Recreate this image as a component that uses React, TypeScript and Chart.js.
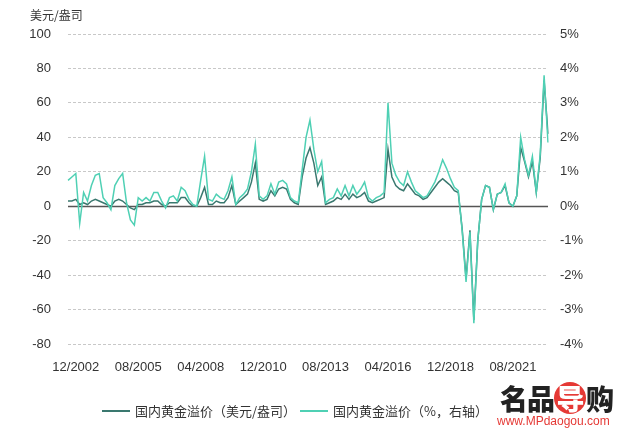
import React, { useEffect, useRef } from 'react';
import { Chart, registerables } from 'chart.js';

Chart.register(...registerables);

// Bimonthly observations starting 08/2002
const START_YEAR = 2002;
const START_MONTH = 8;
const tickLabels = ['12/2002', '08/2005', '04/2008', '12/2010', '08/2013', '04/2016', '12/2018', '08/2021'];

// 国内黄金溢价（美元/盎司）
const premiumUsd = [
  3, 3, 4, 1, 2, 1, 3, 4, 3, 2, 1, 0, 3, 4, 3, 1, -1, -2, 1, 1,
  2, 2, 3, 3, 1, 0, 2, 2, 2, 5, 5, 2, 0, 0, 5, 11, 1, 1, 3, 2,
  2, 5, 12, 1, 3, 5, 7, 14, 25, 4, 3, 4, 9, 6, 10, 11, 10, 4, 2, 1,
  17, 28, 34, 25, 12, 17, 1, 2, 3, 5, 4, 7, 4, 7, 5, 6, 8, 3, 2, 3,
  4, 5, 33, 17, 12, 10, 9, 13, 10, 7, 6, 4, 5, 8, 11, 14, 16, 14, 12, 9,
  8, -13, -42, -14, -66, -20, 4, 12, 11, -2, 7, 8, 12, 2, 0, 6, 34, 26, 17, 26,
  8, 28, 73, 42,
];

// 国内黄金溢价（%，右轴）
const premiumPct = [
  0.75, 0.85, 0.95, -0.5, 0.4, 0.15, 0.6, 0.9, 0.95, 0.25, 0.1, -0.1, 0.6, 0.8, 0.95, 0.1, -0.4, -0.55, 0.25, 0.15,
  0.25, 0.15, 0.4, 0.4, 0.15, -0.05, 0.25, 0.3, 0.15, 0.55, 0.45, 0.2, 0.05, 0, 0.75, 1.45, 0.2, 0.15, 0.35, 0.25,
  0.2, 0.45, 0.85, 0.05, 0.25, 0.35, 0.5, 1.0, 1.8, 0.3, 0.2, 0.3, 0.65, 0.35, 0.7, 0.75, 0.65, 0.25, 0.15, 0.1,
  1.05, 2.0, 2.5, 1.65, 1.0, 1.3, 0.1, 0.2, 0.25, 0.5, 0.3, 0.6, 0.3, 0.6, 0.35, 0.5, 0.7, 0.25, 0.15, 0.25,
  0.3, 0.4, 3.0, 1.25, 0.9, 0.7, 0.6, 1.0, 0.7, 0.45, 0.35, 0.25, 0.3, 0.5, 0.7, 1.0, 1.35, 1.1, 0.8, 0.55,
  0.45, -0.7, -2.2, -0.75, -3.4, -1.0, 0.2, 0.6, 0.55, -0.1, 0.35, 0.4, 0.65, 0.1, 0, 0.3, 2.0, 1.35, 0.9, 1.45,
  0.4, 1.5, 3.8, 1.85,
];

const categories: string[] = premiumUsd.map((_, i) => {
  const m = START_MONTH - 1 + 2 * i;
  const y = START_YEAR + Math.floor(m / 12);
  const mm = (m % 12) + 1;
  return `${mm < 10 ? '0' : ''}${mm}/${y}`;
});

const DARK = '#3a786f';
const TEAL = '#4fd0b4';
const FONT = '"Liberation Sans", "Noto Sans CJK SC", sans-serif';
const CJK = '"Noto Sans CJK SC", "Liberation Sans", sans-serif';

const zeroLine = {
  id: 'zeroLine',
  beforeDatasetsDraw(chart: any) {
    const { ctx, chartArea, scales } = chart;
    const y = Math.round(scales.y.getPixelForValue(0)) + 0.5;
    ctx.save();
    ctx.strokeStyle = '#555555';
    ctx.lineWidth = 1.6;
    ctx.beginPath();
    ctx.moveTo(chartArea.left, y);
    ctx.lineTo(chartArea.right, y);
    ctx.stroke();
    ctx.restore();
  },
};

export default function App() {
  const ref = useRef<HTMLCanvasElement>(null);

  useEffect(() => {
    document.body.style.margin = '0';
    const canvas = ref.current;
    if (!canvas) return;
    const chart = new Chart(canvas, {
      type: 'line',
      data: {
        labels: categories,
        datasets: [
          {
            label: '国内黄金溢价（美元/盎司）',
            data: premiumUsd,
            yAxisID: 'y',
            borderColor: DARK,
            backgroundColor: DARK,
            borderWidth: 1.5,
            pointRadius: 0,
            tension: 0,
            order: 1,
          },
          {
            label: '国内黄金溢价（%，右轴）',
            data: premiumPct,
            yAxisID: 'y1',
            borderColor: TEAL,
            backgroundColor: TEAL,
            borderWidth: 1.5,
            pointRadius: 0,
            tension: 0,
            order: 0,
          },
        ],
      },
      options: {
        animation: false,
        responsive: false,
        maintainAspectRatio: false,
        layout: { padding: { top: 34, left: 0, right: 0, bottom: 0 } },
        plugins: { legend: { display: false }, tooltip: { enabled: false } },
        scales: {
          x: {
            type: 'category',
            offset: false,
            grid: { display: false, drawTicks: false },
            border: { display: false },
            ticks: {
              autoSkip: false,
              maxRotation: 0,
              minRotation: 0,
              padding: 16,
              color: '#333333',
              font: { size: 13, family: FONT },
            },
            afterBuildTicks: (s: any) => {
              s.ticks = s.ticks.filter((t: any) => tickLabels.includes(categories[t.value]));
            },
            afterFit: (s: any) => {
              s.height = 100;
            },
          },
          y: {
            position: 'left',
            min: -80,
            max: 100,
            ticks: { stepSize: 20, padding: 17, color: '#333333', font: { size: 13, family: FONT } },
            grid: {
              drawTicks: false,
              color: (c: any) => (c.tick && c.tick.value === 0 ? 'rgba(0,0,0,0)' : '#c8c8c8'),
              lineWidth: 1,
            },
            border: { display: false, dash: [3, 2] },
            afterFit: (s: any) => {
              s.width = 68;
            },
          },
          y1: {
            position: 'right',
            min: -4,
            max: 5,
            ticks: {
              stepSize: 1,
              padding: 12,
              color: '#333333',
              font: { size: 13, family: FONT },
              callback: (v: any) => `${v}%`,
            },
            grid: { display: false, drawTicks: false },
            border: { display: false },
            afterFit: (s: any) => {
              s.width = 92;
            },
          },
        },
      },
      plugins: [zeroLine],
    });
    return () => chart.destroy();
  }, []);

  return (
    <div style={{ position: 'relative', width: 640, height: 444, background: '#fff', overflow: 'hidden' }}>
      <canvas ref={ref} width={640} height={444} style={{ position: 'absolute', left: 0, top: 0 }} />
      <div style={{ position: 'absolute', left: 30, top: 6, fontFamily: CJK, fontSize: 12, color: '#333' }}>美元/盎司</div>
      <div style={{ position: 'absolute', left: 102, top: 410, width: 28, height: 2, background: DARK }} />
      <div style={{ position: 'absolute', left: 135, top: 401, fontFamily: CJK, fontSize: 13, color: '#333', whiteSpace: 'nowrap' }}>
        国内黄金溢价（美元/盎司）
      </div>
      <div style={{ position: 'absolute', left: 300, top: 410, width: 28, height: 2, background: TEAL }} />
      <div style={{ position: 'absolute', left: 333, top: 401, fontFamily: CJK, fontSize: 13, color: '#333', whiteSpace: 'nowrap' }}>
        国内黄金溢价（%，右轴）
      </div>
      <div style={{ position: 'absolute', left: 500, top: 378, fontFamily: CJK, fontSize: 28, fontWeight: 900, color: '#222', whiteSpace: 'nowrap', letterSpacing: -1 }}>
        名品<span style={{ display: 'inline-block', background: '#e53935', color: '#fff', borderRadius: '50%', lineHeight: '32px', width: 32, textAlign: 'center' }}>导</span>购
      </div>
      <div style={{ position: 'absolute', left: 497, top: 414, fontFamily: FONT, fontSize: 12, color: '#e53935', whiteSpace: 'nowrap' }}>
        www.MPdaogou.com
      </div>
    </div>
  );
}
